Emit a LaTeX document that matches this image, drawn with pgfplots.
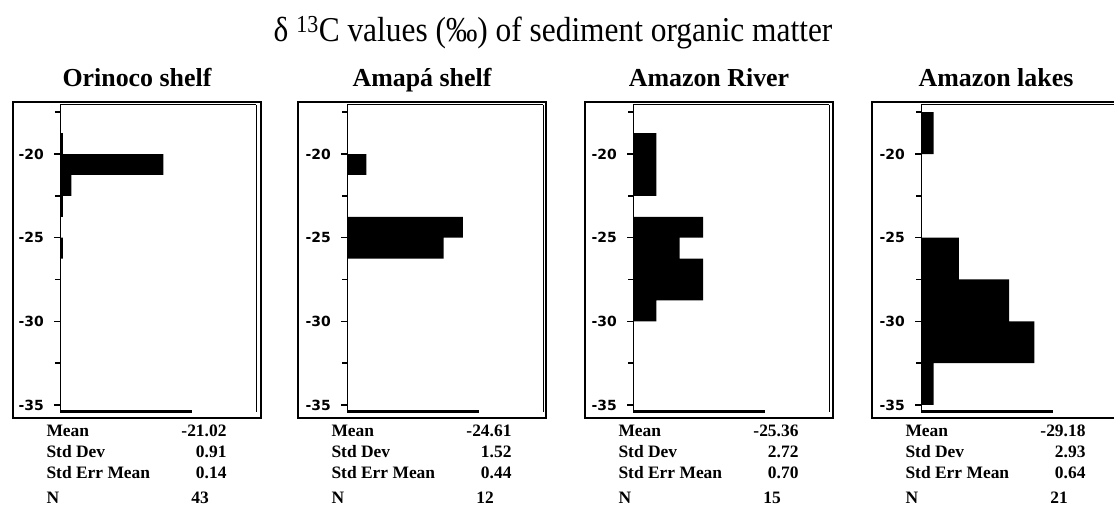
\documentclass[border=0pt]{standalone}
\usepackage{fontspec}
\setmainfont{Liberation Serif}
\newfontfamily\tickfont{DejaVu Sans}
\newfontfamily\titlefont{Liberation Serif}[FakeStretch=0.9]
\usepackage{pgfplots}
\pgfplotsset{compat=1.18}

\pgfplotsset{panel/.style={
  width=196bp, height=307bp, scale only axis, anchor=south west,
  xmin=0, ymin=-35.42, ymax=-17.07,
  hide x axis,
  ytick={-35,-30,-25,-20}, yticklabels={-35,-30,-25,-20},
  minor ytick={-32.5,-27.5,-22.5,-17.5},
  ytick pos=left, tick align=outside,
  major tick length=6bp, minor tick length=5bp,
  every tick/.style={line width=1.5bp, black},
  y axis line style={line width=0.9bp},
  yticklabel style={font=\tickfont\bfseries\fontsize{14}{14}\selectfont, inner sep=1bp, xshift=-9bp},
  clip=false,
}}

% histogram bins: (count, lower edge); last x ignored
\pgfplotstableread{
cnt edge
1 -26.25
0 -25
1 -23.75
4 -22.5
36 -21.25
1 -20
0 -18.75
}\orinoco
\pgfplotstableread{
cnt edge
5 -26.25
6 -25
0 -23.75
0 -22.5
1 -21.25
0 -20
}\amapa
\pgfplotstableread{
cnt edge
1 -30
3 -28.75
3 -27.5
2 -26.25
3 -25
0 -23.75
1 -22.5
1 -21.25
1 -20
0 -18.75
}\river
\pgfplotstableread{
cnt edge
1 -35
9 -32.5
7 -30
3 -27.5
0 -25
0 -22.5
1 -20
0 -17.5
}\lakes

\newcommand\statfont{\bfseries\fontsize{17.5}{17.5}\selectfont}
\newcommand\stats[6]{% #1 outer left x, #2 mean, #3 sd, #4 sem, #5 N, #6 title
  \node[anchor=base west,font=\statfont] at (#1bp+30bp,71bp) {Mean};
  \node[anchor=base west,font=\statfont] at (#1bp+30bp,50bp) {Std Dev};
  \node[anchor=base west,font=\statfont] at (#1bp+30bp,30bp) {Std Err Mean};
  \node[anchor=base west,font=\statfont] at (#1bp+30bp,5bp) {N};
  \node[anchor=base east,font=\statfont] at (#1bp+217bp,71bp) {#2};
  \node[anchor=base east,font=\statfont] at (#1bp+217bp,50bp) {#3};
  \node[anchor=base east,font=\statfont] at (#1bp+217bp,30bp) {#4};
  \node[anchor=base,font=\statfont] at (#1bp+187bp,5bp) {#5};
  \draw[line width=1.4bp] (#1bp,90bp) rectangle (#1bp+248bp,406bp);
  \node[anchor=base,font=\bfseries\fontsize{26}{26}\selectfont] at (#1bp+124bp,421bp) {#6};
}

\begin{document}
\begin{tikzpicture}
\node[anchor=base,font=\titlefont\fontsize{35}{35}\selectfont] at (553bp,466bp) {δ \textsuperscript{13}C values (‰) of sediment organic matter};

\stats{13}{-21.02}{0.91}{0.14}{43}{Orinoco shelf}
\stats{298}{-24.61}{1.52}{0.44}{12}{Amapá shelf}
\stats{585}{-25.36}{2.72}{0.70}{15}{Amazon River}
\stats{872}{-29.18}{2.93}{0.64}{21}{Amazon lakes}

\begin{axis}[panel, at={(60bp,96bp)}, xmax=68.3]
\addplot[xbar interval, fill=black, draw=none] table[x=cnt, y=edge] {\orinoco};
\draw[line width=1bp] (rel axis cs:0,1) -- (rel axis cs:1,1);
\draw[line width=3bp] (rel axis cs:0,0) -- (rel axis cs:0.673,0);
\end{axis}

\begin{axis}[panel, at={(347bp,96bp)}, xmax=10.14]
\addplot[xbar interval, fill=black, draw=none] table[x=cnt, y=edge] {\amapa};
\draw[line width=1bp] (rel axis cs:0,1) -- (rel axis cs:1,1);
\draw[line width=3bp] (rel axis cs:0,0) -- (rel axis cs:0.673,0);
\end{axis}

\begin{axis}[panel, at={(633bp,96bp)}, xmax=8.4]
\addplot[xbar interval, fill=black, draw=none] table[x=cnt, y=edge] {\river};
\draw[line width=1bp] (rel axis cs:0,1) -- (rel axis cs:1,1);
\draw[line width=3bp] (rel axis cs:0,0) -- (rel axis cs:0.673,0);
\end{axis}

\begin{axis}[panel, at={(921bp,96bp)}, xmax=15.56]
\addplot[xbar interval, fill=black, draw=none] table[x=cnt, y=edge] {\lakes};
\draw[line width=1bp] (rel axis cs:0,1) -- (rel axis cs:1,1);
\draw[line width=3bp] (rel axis cs:0,0) -- (rel axis cs:0.673,0);
\end{axis}

\pgfresetboundingbox
\useasboundingbox (0bp,0bp) rectangle (1114bp,508bp);
\end{tikzpicture}
\end{document}
